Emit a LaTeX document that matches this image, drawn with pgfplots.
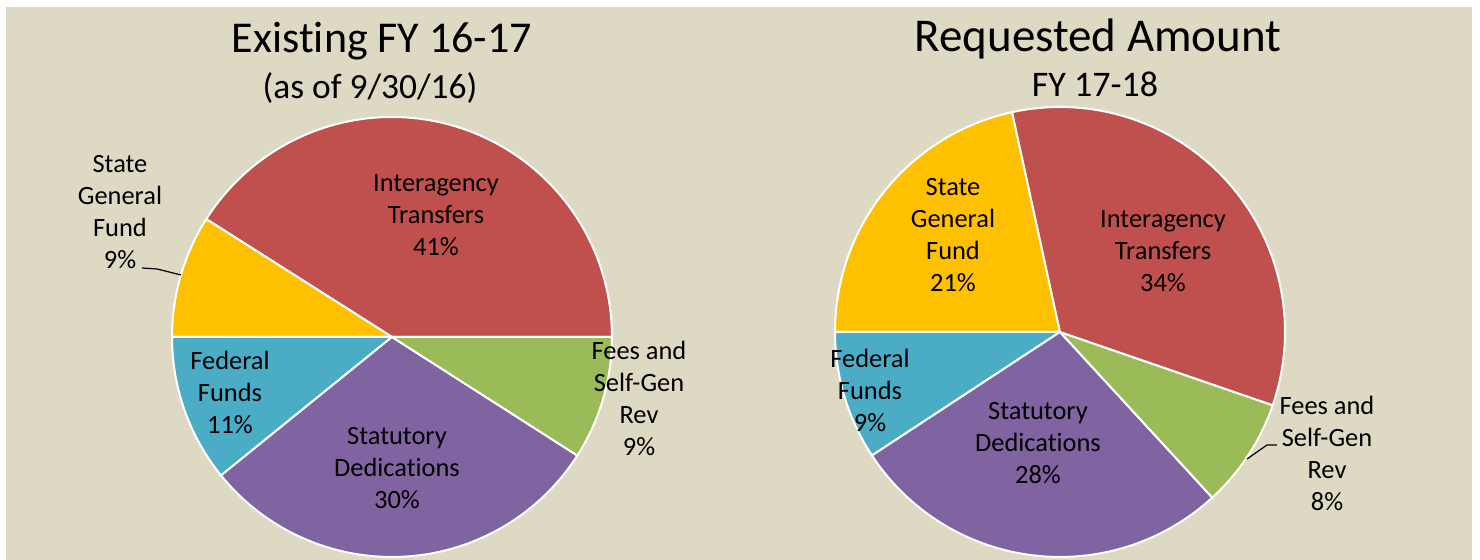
\documentclass[border=0pt]{standalone}
\usepackage{fontspec}
\setmainfont[Ligatures=NoCommon]{Carlito}
\usepackage{pgfplots}
\pgfplotsset{compat=1.18}
\definecolor{bgc}{HTML}{DDD9C3}
\definecolor{cred}{HTML}{C0504D}
\definecolor{cyel}{HTML}{FFC000}
\definecolor{cteal}{HTML}{4BACC6}
\definecolor{cpur}{HTML}{8064A2}
\definecolor{cgrn}{HTML}{9BBB59}
% slice: center x, center y, radius, start angle, end angle, colour
% angles = cumulative share (percent) x 3.6 degrees
\newcommand{\pieslice}[6]{%
  \addplot[fill=#6, draw=white, line width=1pt, domain=#4:#5, samples=90, variable=\t]
    ({#1+#3*cos(\t)},{#2+#3*sin(\t)}) -- (axis cs:#1,#2) -- cycle;}
\begin{document}
\begin{tikzpicture}
\begin{axis}[scale only axis, width=740pt, height=280pt,
  xmin=0, xmax=1480, ymin=0, ymax=560, hide axis, clip=false]
\fill[white] (axis cs:0,0) rectangle (axis cs:1480,560);
\fill[bgc] (axis cs:6,0) rectangle (axis cs:1472,553);
% Left pie: Interagency 41, State GF 9, Federal 11, Statutory 30, Fees 9
\pieslice{392}{223}{220}{0}{147.6}{cred}
\pieslice{392}{223}{220}{147.6}{180}{cyel}
\pieslice{392}{223}{220}{180}{219.0}{cteal}
\pieslice{392}{223}{220}{219.0}{327.4}{cpur}
\pieslice{392}{223}{220}{327.4}{360}{cgrn}
% Right pie: State GF 21.6, Federal 9.25, Statutory 27.6, Fees 7.9, Interagency 33.65
\pieslice{1060}{228}{225}{102.3}{180}{cyel}
\pieslice{1060}{228}{225}{180}{213.3}{cteal}
\pieslice{1060}{228}{225}{213.3}{312.6}{cpur}
\pieslice{1060}{228}{225}{312.6}{341}{cgrn}
\pieslice{1060}{228}{225}{341}{462.3}{cred}
% titles
\node[anchor=base, font=\fontsize{22}{26}\selectfont] at (axis cs:382,507) {Existing FY 16-17};
\node[anchor=base, font=\fontsize{17.7}{21}\selectfont] at (axis cs:370,461) {(as of 9/30/16)};
\node[anchor=base, font=\fontsize{23.5}{28}\selectfont] at (axis cs:1098,508) {Requested Amount};
\node[anchor=base, font=\fontsize{18}{21}\selectfont] at (axis cs:1095,463) {FY 17-18};
% labels
\tikzset{lab/.style={align=center, font=\fontsize{13.2}{16}\selectfont, inner sep=0pt}}
\node[lab] at (axis cs:436,345) {Interagency\\Transfers\\41\%};
\node[lab] at (axis cs:120,347.5) {State\\General\\Fund\\9\%};
\node[lab] at (axis cs:230,168) {Federal\\Funds\\11\%};
\node[lab] at (axis cs:397,91.5) {Statutory\\Dedications\\30\%};
\node[lab] at (axis cs:639,162) {Fees and\\Self-Gen\\Rev\\9\%};
\node[lab] at (axis cs:953,324.5) {State\\General\\Fund\\21\%};
\node[lab] at (axis cs:1163,309) {Interagency\\Transfers\\34\%};
\node[lab] at (axis cs:870,169.5) {Federal\\Funds\\9\%};
\node[lab] at (axis cs:1038,116.5) {Statutory\\Dedications\\28\%};
\node[lab] at (axis cs:1327,106.5) {Fees and\\Self-Gen\\Rev\\8\%};
% leader lines
\draw[black, line width=0.6pt] (axis cs:142,292) -- (axis cs:157,291) -- (axis cs:181,285);
\draw[black, line width=0.6pt] (axis cs:1277,115) -- (axis cs:1267,115) -- (axis cs:1247,101);
\end{axis}
\end{tikzpicture}
\end{document}
